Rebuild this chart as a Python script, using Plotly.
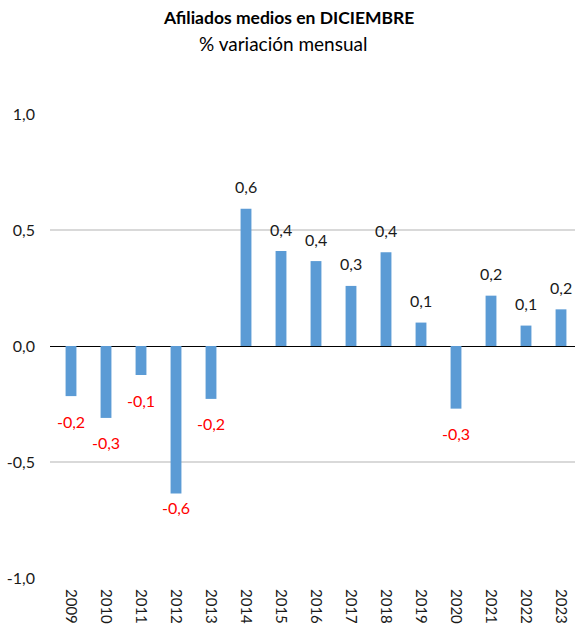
import plotly.graph_objects as go

years = ["2009", "2010", "2011", "2012", "2013", "2014", "2015", "2016",
         "2017", "2018", "2019", "2020", "2021", "2022", "2023"]
values = [-0.216, -0.31, -0.125, -0.636, -0.228, 0.592, 0.409, 0.366,
          0.259, 0.404, 0.101, -0.27, 0.217, 0.088, 0.158]
y_ticks = [-1.0, -0.5, 0.0, 0.5, 1.0]
title_text = "Afiliados medios en DICIEMBRE"
subtitle_text = "% variación mensual"

W, H = 575, 628
ML, MR, MT, MB = 50, 0, 114, 50
FONT = "Lato, Carlito, Calibri, sans-serif"
plot_h = H - MT - MB
plot_w = W - ML - MR
label_shift_override = {"2012": -14}


def fmt(v):
    return f"{v:.1f}".replace(".", ",")


fig = go.Figure()
fig.add_trace(go.Bar(
    x=list(range(len(years))), y=values,
    marker=dict(color="#5B9BD5", line=dict(width=0)),
    width=0.31, hoverinfo="skip",
))

annotations = []
for i, v in enumerate(values):
    pos = v >= 0
    shift = label_shift_override.get(years[i], 22 if pos else -25)
    annotations.append(dict(
        x=i, y=v, xref="x", yref="y", text=fmt(v), showarrow=False,
        yanchor="middle", yshift=shift,
        font=dict(family=FONT, size=16, color="#1a1a1a" if pos else "#FF0000"),
    ))


def paper_y(px):
    return 1 + (MT - px) / plot_h


def paper_x(px):
    return (px - ML) / plot_w


annotations.append(dict(x=paper_x(288), xref="paper", y=paper_y(17), yref="paper",
                        xanchor="center", yanchor="middle", showarrow=False,
                        text=f"<b>{title_text}</b>",
                        font=dict(family=FONT, size=17.5, color="#000000")))
annotations.append(dict(x=paper_x(283), xref="paper", y=paper_y(44), yref="paper",
                        xanchor="center", yanchor="middle", showarrow=False,
                        text=subtitle_text,
                        font=dict(family=FONT, size=19, color="#000000")))

fig.update_layout(
    width=W, height=H,
    margin=dict(l=ML, r=MR, t=MT, b=MB, pad=0),
    paper_bgcolor="white", plot_bgcolor="white",
    showlegend=False,
    annotations=annotations,
    xaxis=dict(
        range=[-0.6, 14.4],
        tickmode="array", tickvals=list(range(len(years))), ticktext=years,
        tickangle=90, showgrid=False, zeroline=False, showline=False,
        ticks="", ticklabelstandoff=10,
        tickfont=dict(family=FONT, size=15, color="#1a1a1a"),
    ),
    yaxis=dict(
        range=[-1.0, 1.0], tickmode="array", tickvals=y_ticks,
        ticktext=[fmt(t) for t in y_ticks],
        showgrid=True, gridcolor="#D9D9D9", gridwidth=1.5,
        zeroline=True, zerolinecolor="#000000", zerolinewidth=1.3,
        showline=False, ticks="", ticklabelstandoff=14,
        tickfont=dict(family=FONT, size=16, color="#1a1a1a"),
    ),
)

fig.write_html("out.html", config={"displayModeBar": False},
               post_script="document.body.style.margin='0';document.body.style.overflow='hidden';")
